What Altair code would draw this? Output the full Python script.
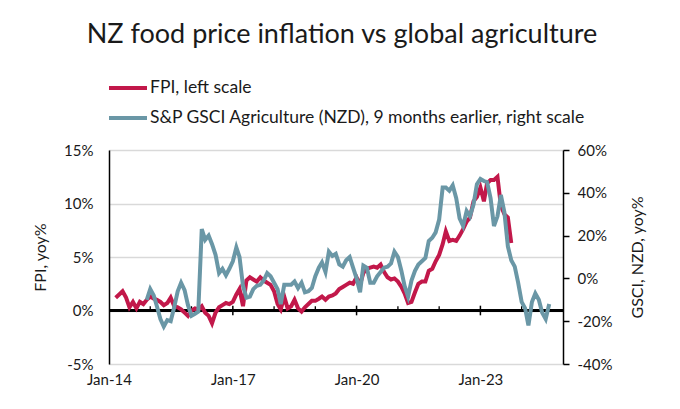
import altair as alt
import pandas as pd

# ---- data ----
series_names = ["FPI, left scale",
                "S&P GSCI Agriculture (NZD), 9 months earlier, right scale"]
series_colors = ["#C2184A", "#6A97A6"]

fpi_start = "2014-03-01"   # monthly, FPI annual % change (left scale)
fpi_values = [
    1.2, 1.5, 1.8, 1.2, 0.3, 0.8, 0.2, 0.8, 0.6, 1.0,
    1.3, 1.1, 1.0, 0.8, 0.5, 0.7, 1.2, 0.4, 0.3, 0.1,
    -0.2, -0.5, 0.0, 0.2, 0.1, 0.4, -0.2, -0.5, -1.2, -0.2,
    0.3, 0.5, 0.7, 0.6, 0.8, 1.5, 2.0, 0.4, 2.8, 3.1,
    2.9, 2.7, 3.1, 2.8, 2.6, 2.4, 1.8, 0.6, 0.1, 1.3,
    0.2, 0.4, 1.0, 0.2, -0.1, 0.3, 0.6, 0.9, 0.9, 1.1,
    1.3, 1.0, 1.3, 1.4, 1.6, 2.0, 2.2, 2.4, 2.6, 2.5,
    3.1, 2.4, 3.5, 3.9, 4.0, 4.1, 4.0, 4.3, 3.6, 3.1,
    2.9, 3.0, 2.7, 2.2, 1.6, 0.7, 0.8, 1.7, 2.5, 2.7,
    2.7, 3.7, 3.9, 4.6, 5.2, 6.2, 7.4, 6.5, 6.6, 6.5,
    7.0, 7.6, 8.3, 8.7, 10.2, 10.6, 11.5, 10.2, 11.9, 12.2,
    12.2, 12.5, 9.8, 9.0, 8.7, 6.3,
]

gsci_start = "2014-12-01"  # monthly, GSCI Agriculture yoy % (right scale), shifted 9 months
gsci_values = [
    -10, -5, -8, -13, -19, -22.5, -19.5, -20, -13.5, -6,
    -2, -5.5, -12.5, -17.5, -16.5, -15.5, 23, 18, 20, 16,
    11, 2.5, 4.5, 1.5, 4.5, 8, 14.5, 10, -3.5, -9,
    -8.5, -5, -3.5, -3, -1, 2.5, 1, -2, -5, -12,
    -3, -3, -3, -1.5, -4.5, -2, -6.5, -6, -4.5, 1,
    5, 7.5, 3, 12.5, 10.5, 11.5, 6.5, 5.5, 8.5, 10,
    5, 0, -6.5, 6, 5, -2, -2, 1, 3, 5,
    5.5, 7, 12.5, 10, 3.5, -3.5, -8.5, -1, 3.5, 6.5,
    8, 9.5, 17.5, 19, 21.5, 27.5, 42.5, 42.5, 41, 43.5,
    37.5, 28, 24.5, 31.5, 29, 34.5, 44, 46.5, 45.5, 45,
    37.5, 24.5, 29, 39, 31, 15, 8.5, 5.5, -2, -11,
    -14, -22, -11, -7, -10, -16, -19, -12,
]

left_ticks = [-5, 0, 5, 10, 15]
right_ticks = [-40, -20, 0, 20, 40, 60]
label_years = [2014, 2017, 2020, 2023]
minor_years = [2015, 2016, 2018, 2019, 2021, 2022, 2024]
major_years = [2017, 2020, 2023]

FONT = "Lato"
TEXT = "#1a1a1a"


def month_strings(start, n):
    return [d.strftime("%Y-%m-%dT00:00:00") for d in pd.date_range(start, periods=n, freq="MS")]


fpi_df = pd.DataFrame({"date": month_strings(fpi_start, len(fpi_values)),
                       "value": fpi_values, "series": series_names[0]})
gsci_df = pd.DataFrame({"date": month_strings(gsci_start, len(gsci_values)),
                        "value": gsci_values, "series": series_names[1]})
minor_df = pd.DataFrame({"date": [f"{y}-01-01T00:00:00" for y in minor_years]})
major_df = pd.DataFrame({"date": [f"{y}-01-01T00:00:00" for y in major_years]})

x_scale = alt.Scale(domain=[alt.DateTime(year=2014, month=1, date=1),
                            alt.DateTime(year=2025, month=1, date=1)])
x_axis = alt.Axis(values=[alt.DateTime(year=y, month=1, date=1) for y in label_years],
                  format="%b-%y", domain=False, ticks=False, grid=False,
                  labelPadding=8, labelFontSize=15, labelColor=TEXT, labelFont=FONT,
                  labelFlush=False, title=None)
X = alt.X("date:T", scale=x_scale, axis=x_axis)

color = alt.Color("series:N",
                  scale=alt.Scale(domain=series_names, range=series_colors),
                  legend=alt.Legend(title=None, orient="none", legendX=-2, legendY=-83,
                                    direction="vertical", symbolType="stroke",
                                    symbolSize=1444, symbolStrokeWidth=4,
                                    labelFontSize=17.5, labelFont=FONT, labelColor=TEXT,
                                    labelLimit=700, rowPadding=0, labelOffset=1,
                                    padding=0))

left_y = alt.Y("value:Q",
               scale=alt.Scale(domain=[-5, 15], nice=False, zero=False),
               axis=alt.Axis(values=left_ticks, labelExpr="datum.value + '%'",
                             grid=True, gridColor="#d9d9d9", gridWidth=1.5,
                             domain=True, domainColor="black", domainWidth=1.5,
                             ticks=False, labelPadding=16,
                             labelFontSize=15, labelColor=TEXT, labelFont=FONT,
                             title="FPI, yoy%", titleFontSize=16, titleFont=FONT,
                             titleFontWeight="normal", titleColor=TEXT, titlePadding=15))

fpi_line = alt.Chart(fpi_df).mark_line(strokeWidth=4).encode(x=X, y=left_y, color=color)

zero_rule = alt.Chart(fpi_df).mark_rule(color="black", strokeWidth=1.5).encode(y=alt.datum(0))

minor_ticks = alt.Chart(minor_df).mark_rule(color="black", strokeWidth=1.3).encode(
    x=X, y=alt.datum(0), y2=alt.datum(0.4))
major_ticks = alt.Chart(major_df).mark_rule(color="black", strokeWidth=1.5).encode(
    x=X, y=alt.datum(-0.45), y2=alt.datum(0.45))

left_layer = alt.layer(zero_rule, minor_ticks, major_ticks, fpi_line)

gsci_line = alt.Chart(gsci_df).mark_line(strokeWidth=4).encode(
    x=X,
    y=alt.Y("value:Q",
            scale=alt.Scale(domain=[-40, 60], nice=False, zero=False),
            axis=alt.Axis(orient="right", values=right_ticks,
                          labelExpr="datum.value + '%'", grid=False,
                          domain=True, domainColor="black", domainWidth=1.5,
                          ticks=True, tickColor="black", tickSize=6, tickWidth=1.5,
                          labelPadding=8, labelFontSize=15, labelColor=TEXT,
                          labelFont=FONT, title="GSCI, NZD, yoy%", titleAngle=270,
                          titleBaseline="top",
                          titleFontSize=16, titleFont=FONT, titleFontWeight="normal",
                          titleColor=TEXT, titlePadding=18)),
    color=color)

chart = alt.layer(left_layer, gsci_line).resolve_scale(y="independent").properties(
    width=454, height=214,
    autosize=alt.AutoSizeParams(type="none"),
    padding={"left": 101, "top": 142, "right": 109, "bottom": 37},
    title=alt.TitleParams("NZ food price inflation vs global agriculture",
                          fontSize=27, font=FONT, fontWeight="normal", color=TEXT,
                          anchor="middle", frame="group", offset=18, dx=6),
).configure_view(stroke=None).configure(background="white")

chart.save("out.html", embed_options={"renderer": "svg", "actions": False})
